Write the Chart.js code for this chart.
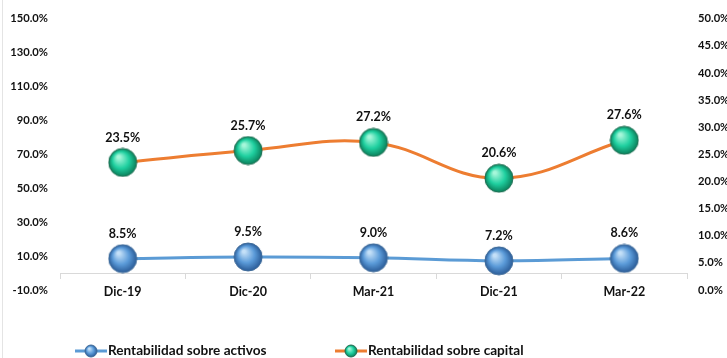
<!DOCTYPE html>
<html>
<head>
<meta charset="utf-8">
<script src="https://cdn.jsdelivr.net/npm/chart.js@4.4.1/dist/chart.umd.min.js"></script>
<style>
  html, body { margin: 0; padding: 0; background: #ffffff; }
  #wrap { width: 727px; height: 358px; position: relative; }
  #frame { position: absolute; left: 2px; top: 0; width: 1px; height: 358px; background: #e4e4e4; }
</style>
</head>
<body>
<div id="wrap"><canvas id="chart"></canvas><div id="frame"></div></div>
<script>
// Periods on the horizontal axis
const categories = ['Dic-19', 'Dic-20', 'Mar-21', 'Dic-21', 'Mar-22'];

// Return on assets (left axis) and return on equity (right axis), in percent
const roaValues = [8.5, 9.5, 9.0, 7.2, 8.6];
const roeValues = [23.5, 25.7, 27.2, 20.6, 27.6];

// Tick values for both value axes
const leftTicks = [-10, 10, 30, 50, 70, 90, 110, 130, 150];
const rightTicks = [0, 5, 10, 15, 20, 25, 30, 35, 40, 45, 50];

const seriesNames = ['Rentabilidad sobre activos', 'Rentabilidad sobre capital'];

const FONT = 'Lato, "Liberation Sans", sans-serif';
const TEXT = '#111111';

// Shaded ball used as the point marker
function makeSphere(r, light, mid, dark, edge) {
  const c = document.createElement('canvas');
  const s = Math.ceil(r * 2 + 2);
  c.width = s; c.height = s;
  const g = c.getContext('2d');
  const cx = s / 2, cy = s / 2;
  const grad = g.createRadialGradient(cx - r * 0.3, cy - r * 0.4, r * 0.1, cx, cy, r);
  grad.addColorStop(0, light);
  grad.addColorStop(0.55, mid);
  grad.addColorStop(1, dark);
  g.beginPath();
  g.arc(cx, cy, r, 0, Math.PI * 2);
  g.fillStyle = grad;
  g.fill();
  g.lineWidth = 1;
  g.strokeStyle = edge;
  g.stroke();
  return c;
}

const blueBall = makeSphere(14, '#c4e0f8', '#5b9bd9', '#2b5c98', '#3f6b99');
const greenBall = makeSphere(14, '#a6f7da', '#1fd0a0', '#0b7f5a', '#1f6e52');
const blueBallSmall = makeSphere(6, '#c4e0f8', '#5b9bd9', '#2b5c98', '#3f6b99');
const greenBallSmall = makeSphere(6, '#a6f7da', '#1fd0a0', '#0b7f5a', '#1f6e52');

// Value labels above each point
const valueLabels = {
  id: 'valueLabels',
  afterDatasetsDraw(chart) {
    const ctx = chart.ctx;
    ctx.save();
    ctx.font = 'bold 12.5px ' + FONT;
    ctx.fillStyle = TEXT;
    ctx.textAlign = 'center';
    ctx.textBaseline = 'middle';
    chart.data.datasets.forEach((ds, i) => {
      const meta = chart.getDatasetMeta(i);
      meta.data.forEach((pt, j) => {
        ctx.fillText(ds.data[j].toFixed(1) + '%', pt.x, pt.y - 25);
      });
    });
    ctx.restore();
  }
};

// Legend drawn as line + ball + name along the bottom
const bottomLegend = {
  id: 'bottomLegend',
  afterDraw(chart) {
    const ctx = chart.ctx;
    const y = chart.height - 7;
    const items = [
      { x: 75, color: '#5b9bd5', ball: blueBallSmall, text: seriesNames[0] },
      { x: 335, color: '#ed7d31', ball: greenBallSmall, text: seriesNames[1] }
    ];
    ctx.save();
    items.forEach(it => {
      ctx.strokeStyle = it.color;
      ctx.lineWidth = 3;
      ctx.beginPath();
      ctx.moveTo(it.x, y);
      ctx.lineTo(it.x + 32, y);
      ctx.stroke();
      ctx.drawImage(it.ball, it.x + 16 - it.ball.width / 2, y - it.ball.height / 2);
      ctx.font = 'bold 13.6px ' + FONT;
      ctx.fillStyle = TEXT;
      ctx.textAlign = 'left';
      ctx.textBaseline = 'middle';
      ctx.fillText(it.text, it.x + 33, y);
    });
    ctx.restore();
  }
};

const pctLabel = v => v.toFixed(1) + '%';

new Chart(document.getElementById('chart'), {
  type: 'line',
  data: {
    labels: categories,
    datasets: [
      {
        label: seriesNames[0],
        data: roaValues,
        yAxisID: 'y',
        borderColor: '#5b9bd5',
        borderWidth: 3,
        tension: 0.4,
        pointStyle: blueBall,
        pointRadius: 14,
        pointHoverRadius: 14
      },
      {
        label: seriesNames[1],
        data: roeValues,
        yAxisID: 'y1',
        borderColor: '#ed7d31',
        borderWidth: 3,
        tension: 0.4,
        pointStyle: greenBall,
        pointRadius: 14,
        pointHoverRadius: 14
      }
    ]
  },
  options: {
    responsive: true,
    maintainAspectRatio: false,
    animation: false,
    events: [],
    layout: { padding: { top: 17, bottom: 68, left: 0, right: 0 } },
    plugins: {
      legend: { display: false },
      tooltip: { enabled: false }
    },
    scales: {
      x: {
        type: 'category',
        position: { y: 0 },
        offset: true,
        grid: {
          display: true,
          drawOnChartArea: false,
          drawTicks: true,
          tickLength: 5,
          offset: true,
          color: '#d9d9d9'
        },
        border: { display: true, color: '#d9d9d9', width: 1 },
        ticks: {
          padding: 6,
          color: TEXT,
          font: { family: FONT, weight: 'bold', size: 12.5 }
        }
      },
      y: {
        position: 'left',
        min: -10,
        max: 150,
        afterBuildTicks: s => { s.ticks = leftTicks.map(v => ({ value: v })); },
        afterFit: s => { s.width = 60; },
        grid: { display: false, drawTicks: false },
        border: { display: false },
        ticks: {
          padding: 12,
          color: TEXT,
          callback: v => pctLabel(v),
          font: { family: FONT, weight: 'bold', size: 11.2 }
        }
      },
      y1: {
        position: 'right',
        min: 0,
        max: 50,
        afterBuildTicks: s => { s.ticks = rightTicks.map(v => ({ value: v })); },
        afterFit: s => { s.width = 40; },
        grid: { display: false, drawTicks: false },
        border: { display: false },
        ticks: {
          padding: 11,
          color: TEXT,
          callback: v => pctLabel(v),
          font: { family: FONT, weight: 'bold', size: 11.2 }
        }
      }
    }
  },
  plugins: [valueLabels, bottomLegend]
});
</script>
</body>
</html>
